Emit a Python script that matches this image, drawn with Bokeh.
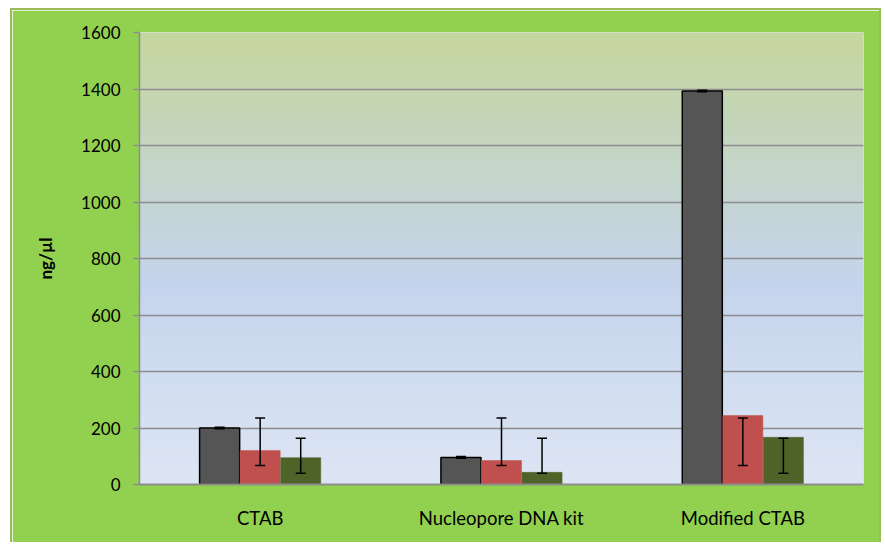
import numpy as np
from bokeh.plotting import figure
from bokeh.models import FixedTicker, Whisker, ColumnDataSource, TeeHead
from bokeh.embed import file_html
from bokeh.resources import INLINE

categories = ["CTAB", "Nucleopore DNA kit", "Modified CTAB"]
series_gray = [200, 96, 1393]
series_red = [120, 85, 244]
series_green = [95, 43, 167]
gray_lower = [197, 93, 1390]
gray_upper = [203, 99, 1396]
red_lower = [67, 67, 67]
red_upper = [235, 235, 235]
green_lower = [40, 40, 40]
green_upper = [164, 164, 164]
y_ticks = [0, 200, 400, 600, 800, 1000, 1200, 1400, 1600]

FONT = "Lato"
GREEN_BG = "#92D050"

p = figure(width=871, height=534, x_range=(0, 3), y_range=(0, 1600),
           output_backend="svg", toolbar_location=None,
           min_border_left=127, min_border_right=20, min_border_top=22, min_border_bottom=60)
p.styles = {"margin-left": "10px", "margin-top": "8px", "border": "2px solid #9BBB59",
            "border-bottom": "none"}
p.border_fill_color = GREEN_BG
p.background_fill_color = "#DCE5F3"
p.outline_line_color = None

# gradient background of the plot area
n = 200
t = np.linspace(0, 1, n)  # 0 bottom, 1 top
stops = [(0.0, (221, 230, 244)), (0.45, (197, 212, 237)), (1.0, (197, 215, 158))]
rgb = np.zeros((n, 3))
for c in range(3):
    rgb[:, c] = np.interp(t, [s[0] for s in stops], [s[1][c] for s in stops])
img = np.zeros((n, 2), dtype=np.uint32)
view = img.view(dtype=np.uint8).reshape((n, 2, 4))
for c in range(3):
    view[:, :, c] = rgb[:, c:c + 1].astype(np.uint8)
view[:, :, 3] = 255
p.image_rgba(image=[img], x=0, y=0, dw=3, dh=1600, level="image")

xc = np.arange(len(categories)) + 0.5
bw = 0.166
offs = [-0.168, 0.0, 0.168]
series = [(series_gray, gray_lower, gray_upper, "#555555", "black"),
          (series_red, red_lower, red_upper, "#C0504D", "#C0504D"),
          (series_green, green_lower, green_upper, "#4F6228", "#4F6228")]
for (vals, lo, hi, col, lc), off in zip(series, offs):
    src = ColumnDataSource(dict(x=xc + off, top=vals, lo=lo, hi=hi))
    p.vbar(x="x", top="top", width=bw, bottom=0, source=src, fill_color=col,
           line_color=lc, line_width=1.5 if lc == "black" else 0.5)
    w = Whisker(base="x", lower="lo", upper="hi", source=src, line_color="black", line_width=1.5,
                level="overlay",
                upper_head=TeeHead(size=10, line_color="black", line_width=1.5),
                lower_head=TeeHead(size=10, line_color="black", line_width=1.5))
    p.add_layout(w)

# grid
p.xgrid.visible = False
p.ygrid.ticker = FixedTicker(ticks=y_ticks)
p.ygrid.grid_line_color = "#8C8C8C"
p.ygrid.grid_line_width = 1.5

# y axis
p.yaxis.ticker = FixedTicker(ticks=y_ticks)
p.yaxis.axis_line_color = "#8C8C8C"
p.yaxis.axis_line_width = 1.5
p.yaxis.major_tick_line_color = "#8C8C8C"
p.yaxis.major_tick_line_width = 1.5
p.yaxis.major_tick_out = 6
p.yaxis.major_tick_in = 0
p.yaxis.minor_tick_line_color = None
p.yaxis.major_label_standoff = 13
p.yaxis.major_label_text_font = FONT
p.yaxis.major_label_text_font_size = "17px"
p.yaxis.major_label_text_color = "black"
p.yaxis.axis_label = "ng/µl"
p.yaxis.axis_label_text_font = FONT
p.yaxis.axis_label_text_font_size = "17px"
p.yaxis.axis_label_text_font_style = "bold"
p.yaxis.axis_label_text_color = "black"
p.yaxis.axis_label_standoff = 22

# x axis
p.xaxis.ticker = FixedTicker(ticks=list(xc))
p.xaxis.major_label_overrides = {float(x): c for x, c in zip(xc, categories)}
p.xaxis.axis_line_color = "#8C8C8C"
p.xaxis.axis_line_width = 2
p.xaxis.major_tick_line_color = None
p.xaxis.minor_tick_line_color = None
p.xaxis.major_label_standoff = 16
p.xaxis.major_label_text_font = FONT
p.xaxis.major_label_text_font_size = "18.5px"
p.xaxis.major_label_text_color = "black"

open("out.html", "w").write(file_html(p, INLINE))
